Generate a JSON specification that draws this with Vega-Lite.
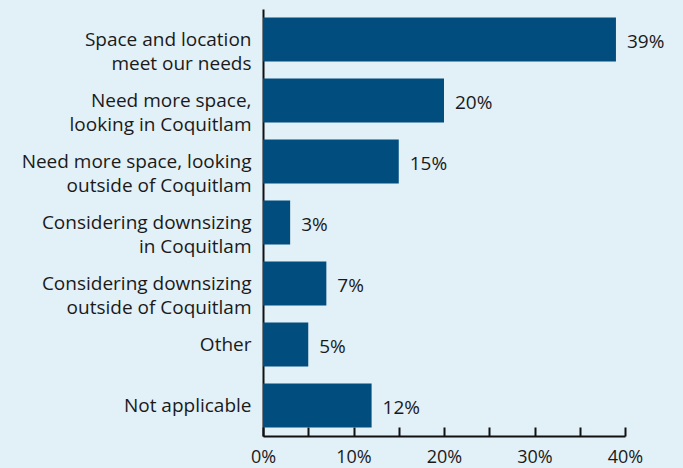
{
  "$schema": "https://vega.github.io/schema/vega-lite/v6.json",
  "width": 362,
  "height": 427,
  "autosize": {"type": "none"},
  "padding": {"left": 263, "top": 9, "right": 58, "bottom": 32},
  "background": "#e2f0f7",
  "config": {
    "view": {"stroke": null},
    "font": "Open Sans"
  },
  "data": {
    "values": [
      {"label": "Space and location|meet our needs", "value": 39, "txt": "39%"},
      {"label": "Need more space,|looking in Coquitlam", "value": 20, "txt": "20%"},
      {"label": "Need more space, looking|outside of Coquitlam", "value": 15, "txt": "15%"},
      {"label": "Considering downsizing|in Coquitlam", "value": 3, "txt": "3%"},
      {"label": "Considering downsizing|outside of Coquitlam", "value": 7, "txt": "7%"},
      {"label": "Other", "value": 5, "txt": "5%"},
      {"label": "Not applicable", "value": 12, "txt": "12%"}
    ]
  },
  "encoding": {
    "y": {
      "field": "label",
      "type": "nominal",
      "sort": null,
      "scale": {"paddingInner": 0.28, "paddingOuter": 0.14},
      "axis": {
        "title": null,
        "labelExpr": "split(datum.label, '|')",
        "labelLineHeight": 24,
        "labelFontSize": 19,
        "labelColor": "#1a1a1a",
        "labelPadding": 18,
        "tickSize": -6,
        "tickWidth": 2,
        "tickColor": "#111111",
        "domainColor": "#111111",
        "domainWidth": 2,
        "labelLimit": 300
      }
    },
    "x": {
      "field": "value",
      "type": "quantitative",
      "scale": {"domain": [0, 40], "nice": false},
      "axis": {
        "title": null,
        "values": [0, 5, 10, 15, 20, 25, 30, 35, 40],
        "labelExpr": "datum.value % 10 == 0 ? datum.value + '%' : ''",
        "grid": false,
        "labelFontSize": 18,
        "labelColor": "#1a1a1a",
        "labelPadding": 21,
        "tickSize": -9,
        "tickWidth": 2,
        "tickColor": "#111111",
        "domainColor": "#111111",
        "domainWidth": 2,
        "labelFlush": false
      }
    }
  },
  "layer": [
    {"mark": {"type": "bar", "color": "#004d7e"}},
    {
      "mark": {"type": "text", "align": "left", "dx": 11, "dy": 2, "fontSize": 19, "color": "#1a1a1a"},
      "encoding": {"text": {"field": "txt"}}
    }
  ]
}
